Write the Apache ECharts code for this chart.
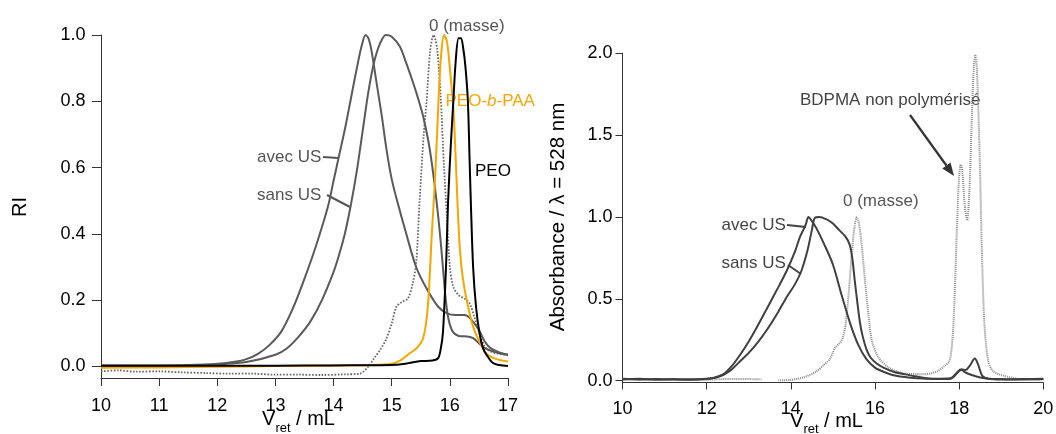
<!DOCTYPE html>
<html><head><meta charset="utf-8">
<script src="https://cdn.jsdelivr.net/npm/echarts@6/dist/echarts.min.js"></script>
<style>html,body{margin:0;padding:0;background:#fff}#c{width:1056px;height:434px}</style>
</head><body><div id="c"></div>
<script>
// ---------- Left panel: RI vs Vret (mL) ----------
const riAvecUS = [[10,0.003],[10.5,0.003],[11,0.003],[11.5,0.004],[12,0.008],[12.3,0.014],[12.5,0.022],[12.7,0.038],[12.9,0.065],[13.1,0.105],[13.3,0.175],[13.5,0.265],[13.7,0.365],[13.9,0.48],[14.0,0.56],[14.1,0.64],[14.2,0.72],[14.3,0.81],[14.4,0.9],[14.48,0.965],[14.55,1.0],[14.6,0.99],[14.65,0.955],[14.74,0.855],[14.83,0.755],[14.91,0.655],[15.0,0.565],[15.1,0.495],[15.25,0.4],[15.42,0.3],[15.6,0.235],[15.8,0.18],[15.95,0.16],[16.1,0.155],[16.25,0.155],[16.35,0.145],[16.5,0.11],[16.6,0.075],[16.7,0.055],[16.85,0.042],[17,0.035]];
const riSansUS = [[10,0.002],[11,0.002],[11.5,0.003],[12,0.006],[12.5,0.013],[13,0.035],[13.2,0.055],[13.4,0.09],[13.6,0.135],[13.8,0.2],[14.0,0.285],[14.1,0.34],[14.2,0.405],[14.3,0.49],[14.4,0.59],[14.5,0.71],[14.6,0.83],[14.7,0.92],[14.8,0.975],[14.9,1.0],[15.0,0.995],[15.14,0.965],[15.25,0.915],[15.37,0.855],[15.46,0.805],[15.54,0.755],[15.63,0.68],[15.7,0.6],[15.77,0.5],[15.83,0.4],[15.88,0.3],[15.93,0.2],[15.98,0.14],[16.05,0.105],[16.15,0.092],[16.3,0.09],[16.4,0.085],[16.5,0.07],[16.6,0.055],[16.8,0.042],[17,0.035]];
const riMasse = [[10,-0.015],[10.3,-0.012],[10.6,-0.016],[11,-0.015],[11.4,-0.018],[11.8,-0.02],[12.2,-0.022],[12.6,-0.022],[13,-0.025],[13.4,-0.025],[13.8,-0.026],[14.2,-0.024],[14.45,-0.022],[14.6,0.0],[14.7,0.025],[14.8,0.05],[14.9,0.08],[15.0,0.13],[15.08,0.18],[15.18,0.195],[15.28,0.205],[15.36,0.25],[15.42,0.31],[15.48,0.5],[15.55,0.7],[15.6,0.8],[15.66,0.95],[15.72,1.0],[15.78,0.96],[15.84,0.82],[15.9,0.6],[15.95,0.45],[16.0,0.3],[16.06,0.24],[16.15,0.215],[16.25,0.205],[16.34,0.19],[16.42,0.15],[16.51,0.1],[16.6,0.06],[16.7,0.045],[16.85,0.038],[17,0.035]];
const riPEObPAA = [[10,-0.004],[11,-0.003],[12,-0.001],[13,0.001],[14,0.003],[14.6,0.004],[15.0,0.008],[15.15,0.018],[15.3,0.038],[15.43,0.055],[15.53,0.08],[15.59,0.13],[15.63,0.2],[15.69,0.4],[15.74,0.55],[15.78,0.7],[15.82,0.86],[15.86,0.96],[15.9,1.0],[15.95,0.98],[16.0,0.9],[16.06,0.78],[16.1,0.63],[16.13,0.5],[16.17,0.36],[16.22,0.27],[16.29,0.2],[16.4,0.12],[16.55,0.06],[16.65,0.035],[16.8,0.022],[17,0.015]];
const riPEO = [[10,0.002],[11,0.002],[12,0.002],[13,0.002],[14,0.003],[15,0.004],[15.2,0.007],[15.35,0.012],[15.5,0.016],[15.7,0.018],[15.8,0.025],[15.85,0.06],[15.88,0.1],[15.91,0.2],[15.94,0.33],[15.97,0.5],[16.02,0.68],[16.06,0.8],[16.1,0.92],[16.15,0.99],[16.19,0.99],[16.23,0.96],[16.27,0.9],[16.31,0.8],[16.34,0.62],[16.36,0.5],[16.4,0.3],[16.45,0.18],[16.51,0.1],[16.57,0.055],[16.63,0.035],[16.74,0.01],[16.85,0.004],[17,0.001]];

// ---------- Right panel: Absorbance (528 nm) vs Vret (mL) ----------
const absAvecUS = [[10,0.012],[10.4,0.008],[10.8,0.01],[11.2,0.007],[11.6,0.009],[12,0.012],[12.2,0.02],[12.4,0.04],[12.6,0.09],[12.8,0.16],[13.0,0.24],[13.2,0.33],[13.43,0.44],[13.7,0.57],[13.9,0.67],[14.1,0.79],[14.22,0.88],[14.35,0.95],[14.42,1.0],[14.5,0.975],[14.6,0.935],[14.8,0.83],[15.0,0.71],[15.2,0.53],[15.41,0.35],[15.6,0.22],[15.8,0.13],[16.0,0.08],[16.2,0.055],[16.5,0.03],[17.0,0.015],[17.5,0.01],[17.8,0.012],[18.0,0.06],[18.06,0.065],[18.15,0.05],[18.3,0.035],[18.5,0.02],[18.7,0.012],[19,0.01],[19.5,0.008],[20,0.01]];
const absSansUS = [[10,0.008],[10.4,0.012],[10.8,0.006],[11.2,0.01],[11.6,0.006],[12,0.01],[12.2,0.018],[12.4,0.035],[12.6,0.07],[12.8,0.12],[13.0,0.17],[13.2,0.23],[13.43,0.31],[13.7,0.42],[13.9,0.51],[14.1,0.59],[14.25,0.67],[14.4,0.8],[14.5,0.92],[14.57,0.995],[14.68,1.0],[14.85,0.985],[15.0,0.96],[15.15,0.92],[15.3,0.88],[15.4,0.83],[15.46,0.75],[15.52,0.61],[15.58,0.48],[15.64,0.36],[15.7,0.28],[15.8,0.19],[15.9,0.14],[16.04,0.105],[16.2,0.08],[16.44,0.055],[16.7,0.04],[17.0,0.025],[17.4,0.012],[17.8,0.015],[17.95,0.05],[18.05,0.07],[18.15,0.065],[18.25,0.09],[18.37,0.135],[18.45,0.1],[18.55,0.03],[18.7,0.012],[19,0.008],[19.5,0.01],[20,0.012]];
const absMasse = [[10,0.01],[10.5,0.006],[11,0.008],[11.5,0.004],[12,0.006],[12.5,0.01],[13,0.01],[13.3,0.008],[13.5,'-'],[13.7,0.003],[14,0.005],[14.3,0.02],[14.6,0.055],[14.8,0.1],[14.92,0.13],[15.05,0.2],[15.16,0.23],[15.23,0.26],[15.3,0.34],[15.38,0.55],[15.45,0.78],[15.52,0.95],[15.57,1.0],[15.62,0.96],[15.68,0.84],[15.77,0.59],[15.85,0.39],[15.93,0.24],[16.09,0.14],[16.33,0.08],[16.7,0.045],[17.2,0.04],[17.5,0.06],[17.65,0.09],[17.77,0.12],[17.84,0.25],[17.89,0.5],[17.95,0.95],[18.0,1.25],[18.04,1.32],[18.08,1.27],[18.13,1.08],[18.19,0.98],[18.25,1.2],[18.3,1.6],[18.35,1.92],[18.39,1.99],[18.43,1.85],[18.49,1.35],[18.54,0.8],[18.6,0.35],[18.69,0.12],[18.8,0.06],[19,0.035],[19.37,0.012],[19.7,0.008],[20,0.005]];

// ---------- Tick values ----------
const leftYTicks = [0, 0.2, 0.4, 0.6, 0.8, 1.0];
const rightYTicks = [0, 0.5, 1.0, 1.5, 2.0];

const FONT = '"Liberation Sans", Arial, Helvetica, sans-serif';
const AX = '#333';

function xAx(gi, min, max, interval, margin, tickLen) {
  return {
    type: 'value', gridIndex: gi, min: min, max: max, interval: interval,
    axisLine: { show: true, onZero: false, lineStyle: { color: AX, width: 1 } },
    axisTick: { show: true, inside: false, length: tickLen, lineStyle: { color: AX, width: 1 } },
    axisLabel: { show: true, margin: margin, color: '#000', fontSize: 18, fontFamily: FONT },
    splitLine: { show: false }
  };
}
function yAx(gi, min, max, ticks, margin, tickLen) {
  return {
    type: 'value', gridIndex: gi, min: min, max: max,
    axisLine: { show: true, onZero: false, lineStyle: { color: AX, width: 1 } },
    axisTick: { show: true, inside: false, length: tickLen, customValues: ticks, lineStyle: { color: AX, width: 1 } },
    axisLabel: { show: true, margin: margin, color: '#000', fontSize: 18, fontFamily: FONT, customValues: ticks,
      formatter: function (v) { return Number(v).toFixed(1); } },
    splitLine: { show: false }
  };
}
function line(xi, data, color, width, type, z) {
  return {
    type: 'line', xAxisIndex: xi, yAxisIndex: xi, data: data, showSymbol: false, symbol: 'none',
    smooth: 0.3, silent: true, z: z, connectNulls: false,
    lineStyle: { color: color, width: width, type: type }
  };
}
function txt(x, y, s, color, size, align) {
  return { type: 'text', x: x, y: y, silent: true,
    style: { text: s, fill: color, fontSize: size, fontFamily: FONT, align: align || 'left', verticalAlign: 'middle' } };
}
function seg(x1, y1, x2, y2, color, w) {
  return { type: 'line', silent: true, shape: { x1: x1, y1: y1, x2: x2, y2: y2 }, style: { stroke: color, lineWidth: w } };
}

const chart = echarts.init(document.getElementById('c'), null, { renderer: 'canvas' });
chart.setOption({
  animation: false,
  backgroundColor: '#fff',
  grid: [
    { left: 101, right: 548, top: 35, bottom: 56, containLabel: false, outerBoundsMode: 'none' },
    { left: 622.5, right: 12.7, top: 53.3, bottom: 51.5, containLabel: false, outerBoundsMode: 'none' }
  ],
  xAxis: [xAx(0, 10, 17, 1, 19, 8), xAx(1, 10, 20, 2, 17.5, 7)],
  yAxis: [yAx(0, -0.035, 1.0, leftYTicks, 15.5, 9), yAx(1, -0.011, 2.0, rightYTicks, 10, 7)],
  series: [
    line(0, riMasse, '#666666', 1.8, [1.6, 1.6], 2),
    line(0, riAvecUS, '#5a5a5a', 2, 'solid', 3),
    line(0, riSansUS, '#5a5a5a', 2, 'solid', 3),
    line(0, riPEObPAA, '#f7a600', 2, 'solid', 4),
    line(0, riPEO, '#000000', 2, 'solid', 5),
    line(1, absMasse, '#8a8a8a', 2, [1, 1], 2),
    line(1, absAvecUS, '#404040', 2, 'solid', 3),
    line(1, absSansUS, '#404040', 2, 'solid', 3)
  ],
  graphic: [
    // left panel annotations
    txt(429, 26.5, '0 (masse)', '#555', 17),
    { type: 'text', x: 445.5, y: 101.5, silent: true,
      style: { text: '{a|PEO-}{b|b}{a|-PAA}', fill: '#f7a600', fontSize: 17, fontFamily: FONT, align: 'left', verticalAlign: 'middle',
        rich: { a: { fill: '#f7a600', fontSize: 17, fontFamily: FONT }, b: { fill: '#f7a600', fontSize: 17, fontFamily: FONT, fontStyle: 'italic' } } } },
    txt(475, 171, 'PEO', '#000', 17),
    txt(257, 157, 'avec US', '#555', 17),
    seg(323, 157, 338, 158, '#555', 2),
    txt(257, 195, 'sans US', '#555', 17),
    seg(327, 195, 350, 207, '#555', 2),
    // left axis titles
    { type: 'text', x: 20, y: 207, rotation: Math.PI / 2, silent: true,
      style: { text: 'RI', fill: '#000', fontSize: 20, fontFamily: FONT, align: 'center', verticalAlign: 'middle' } },
    txt(262, 419, 'V', '#000', 20),
    txt(275.5, 428.8, 'ret', '#000', 13),
    txt(290.5, 419, ' / mL', '#000', 20),
    // right panel annotations
    txt(800, 100, 'BDPMA non polymérisé', '#444', 17),
    seg(910, 115, 946.4, 165.5, '#333', 2.2),
    { type: 'polygon', silent: true, shape: { points: [[954, 176], [942.3, 168.4], [950.5, 162.6]] }, style: { fill: '#333' } },
    txt(843, 201.5, '0 (masse)', '#555', 17),
    txt(721.5, 225, 'avec US', '#444', 17),
    seg(787, 225, 806, 227, '#444', 2),
    txt(721.5, 263.5, 'sans US', '#444', 17),
    seg(788, 265, 801, 274, '#444', 2),
    // right axis titles
    { type: 'text', x: 558, y: 217, rotation: Math.PI / 2, silent: true,
      style: { text: 'Absorbance / λ = 528 nm', fill: '#000', fontSize: 20.5, fontFamily: FONT, align: 'center', verticalAlign: 'middle' } },
    txt(790, 421, 'V', '#000', 20),
    txt(803.5, 429, 'ret', '#000', 13),
    txt(818.5, 421, ' / mL', '#000', 20)
  ]
});
</script>
</body></html>
